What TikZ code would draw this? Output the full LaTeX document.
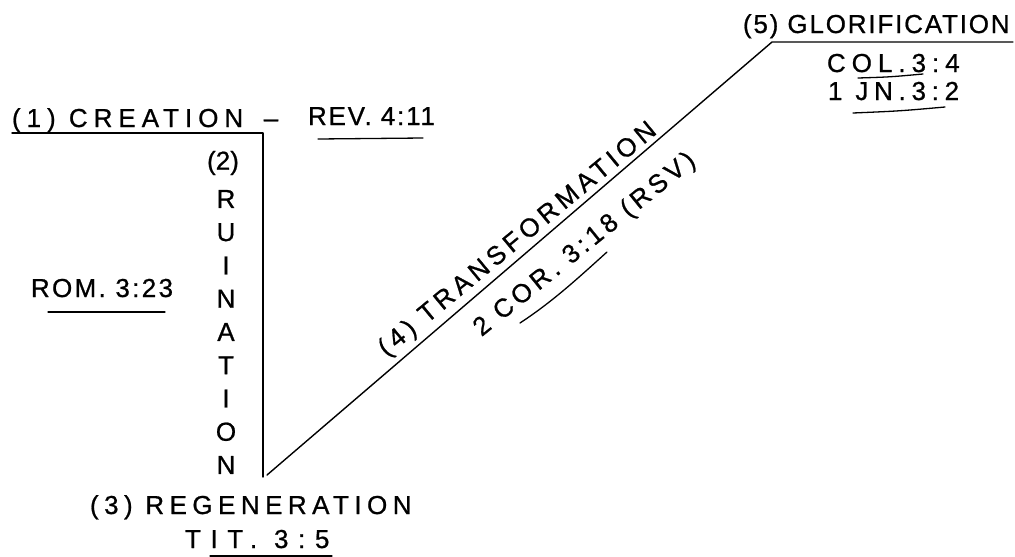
\documentclass[tikz,border=0pt]{standalone}
\usepackage{fontspec}
\newfontfamily\hand[FakeBold=0.8]{Liberation Sans}
\newcommand\lsp[1]{\addfontfeature{LetterSpace=#1}}
\begin{document}
\begin{tikzpicture}[x=1pt,y=-1pt,line width=1.4pt,line cap=round,line join=round,
  lbl/.style={font=\hand\fontsize{26}{26}\selectfont,inner sep=0pt,outer sep=0pt},
  uline/.style={line width=1.3pt}]
\useasboundingbox (0,0) rectangle (1015,557);
% path of the diagram
\coordinate (a) at (12,133);
\coordinate (b) at (263,133);
\coordinate (c) at (263,477);
\coordinate (d) at (267,475);
\coordinate (e) at (772,42);
\coordinate (f) at (1013,42);
\draw (a) -- (b) -- (c);
\draw (d) -- (e) -- (f);
% (1)
\node[lbl,anchor=base west] (creation) at (12,127) {\lsp{23}(1) CREATION};
\node[lbl,anchor=base] (dash) at (271,127) {–};
\node[lbl,anchor=base west] (rev) at (308,125) {\lsp{7}REV. 4:11};
\draw[uline] (318,139) -- (423,138);
% (2)
\node[lbl] (n2) at (223,163) {(2)};
\foreach \ch [count=\i from 0] in {R,U,I,N,A,T,I,O,N}
  \node[lbl] (r\i) at (226,199+33.25*\i) {\ch};
\node[lbl,anchor=base] (rom) at (102,297) {\lsp{9}ROM. 3:23};
\draw[uline] (48,312) -- (165,312);
% (3)
\node[lbl,anchor=base west] (regen) at (90,514) {\lsp{21}(3) REGENERATION};
\node[lbl,anchor=base west] (tit) at (185,548) {\lsp{37}TIT. 3:5};
\draw[uline] (210,556) -- (332,556);
% (4)
\node[lbl,rotate=39.6] (trans) at (518,240) {\lsp{17}(4) TRANSFORMATION};
\node[lbl,rotate=38.9] (cor) at (585,245) {\lsp{16}2 COR. 3:18 (RSV)};
\draw[uline] (520,323) .. controls (552,302) and (576,280) .. (607,252);
% (5)
\node[lbl,anchor=base west] (glor) at (743,33) {\lsp{7}(5) GLORIFICATION};
\node[lbl,anchor=base west] (col) at (827,72) {\lsp{23}COL.3:4};
\draw[uline] (858,78) .. controls (890,77) .. (923,74);
\node[lbl,anchor=base west] (jn) at (828,100) {\lsp{22}1 JN.3:2};
\draw[uline] (853,113) .. controls (900,111) .. (945,107);
\end{tikzpicture}
\end{document}
